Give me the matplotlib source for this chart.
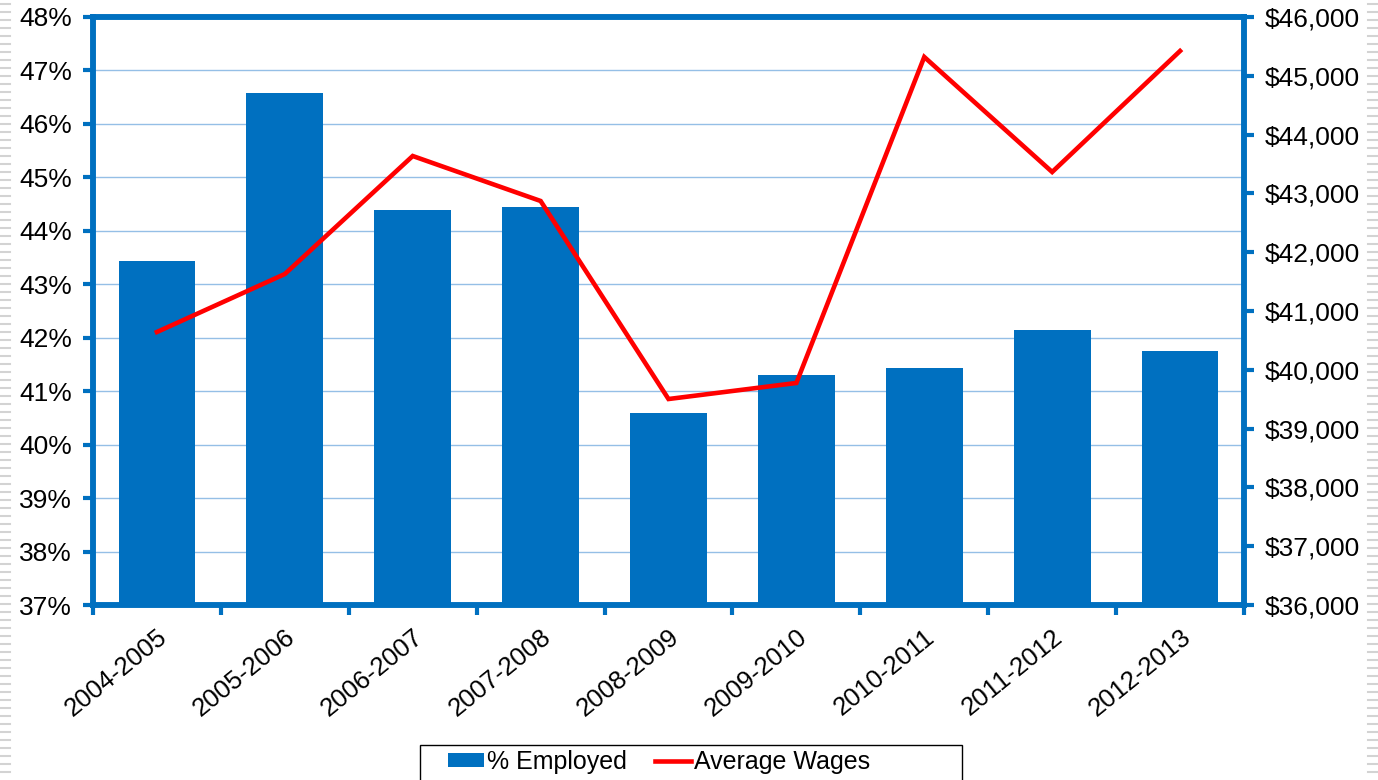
import matplotlib
matplotlib.use("Agg")
import matplotlib.pyplot as plt
import numpy as np
from matplotlib.lines import Line2D
from matplotlib.patches import Rectangle
from matplotlib.ticker import FuncFormatter

categories = ["2004-2005", "2005-2006", "2006-2007", "2007-2008", "2008-2009",
              "2009-2010", "2010-2011", "2011-2012", "2012-2013"]
pct_employed = [43.44, 46.58, 44.39, 44.45, 40.59, 41.30, 41.43, 42.14, 41.75]
avg_wages = [40643, 41629, 43636, 42871, 39503, 39776, 45320, 43364, 45422]
left_ticks = list(range(37, 49))
right_ticks = list(range(36000, 46001, 1000))

plt.rcParams['font.family'] = ['Liberation Sans', 'DejaVu Sans']

BLUE = "#0070C0"
RED = "#FF0000"
GRID = "#95BFE6"

W, H = 1378, 780
fig = plt.figure(figsize=(W / 100, H / 100), dpi=100)
ax = fig.add_axes([93/W, 1-605/H, (1244-93)/W, (605-17)/H])
ax2 = ax.twinx()

x = np.arange(len(categories))
bars = ax.bar(x, pct_employed, width=0.6, color=BLUE, zorder=2, label="% Employed")
line, = ax2.plot(x, avg_wages, color=RED, lw=3.3, zorder=3, label="Average Wages",
                 solid_joinstyle='miter')

ax.set_xlim(-0.5, len(categories) - 0.5)
ax.set_ylim(37, 48)
ax.set_yticks(left_ticks)
ax.yaxis.set_major_formatter(FuncFormatter(lambda v, p: f"{int(round(v))}%"))
ax.grid(axis='y', color=GRID, lw=1, zorder=0)
ax.set_axisbelow(True)

ax2.set_ylim(36000, 46000)
ax2.set_yticks(right_ticks)
ax2.yaxis.set_major_formatter(FuncFormatter(lambda v, p: f"${int(v):,}"))

ax.set_xticks(x)
ax.set_xticklabels(categories, rotation=39, ha='right', rotation_mode='anchor', fontsize=18.5)
ax.set_xticks(np.arange(-0.5, len(categories)), minor=True)
ax.tick_params(axis='x', which='major', length=0, pad=14)
ax.tick_params(axis='x', which='minor', length=7, width=3, color=BLUE)
ax.tick_params(axis='y', length=7, width=3, color=BLUE, labelsize=19, pad=8)
ax2.tick_params(axis='y', length=7, width=3, color=BLUE, labelsize=19, pad=8)
for lbl in ax.get_xticklabels():
    lbl.set_x(lbl.get_position()[0])

for a in (ax, ax2):
    for s in a.spines.values():
        s.set_color(BLUE)
        s.set_linewidth(4)

# legend frame (extends past the bottom edge like the source)
fig.add_artist(Rectangle((420/W, -0.02), (962-420)/W, 0.02 + (780-745)/H,
                         transform=fig.transFigure, facecolor='white',
                         edgecolor='black', lw=1.0, zorder=5))
leg = fig.legend(handles=[bars, line], labels=["% Employed", "Average Wages"],
                 loc='center left', bbox_to_anchor=(448/W, 1-762/H), ncol=2,
                 fontsize=18, frameon=False, handlelength=1.45, handleheight=0.5,
                 handletextpad=0.12, columnspacing=1.1, borderpad=0,
                 borderaxespad=0)
leg.set_zorder(6)

# decorative slide edge stripes
for yy in range(4, H, 8):
    yf = 1 - yy / H
    fig.add_artist(Line2D([0, 10/W], [yf, yf], color="#D3D3D3", lw=1.5))
    fig.add_artist(Line2D([1368/W, 1], [yf, yf], color="#D3D3D3", lw=1.5))

fig.savefig("out.png", dpi=100)
